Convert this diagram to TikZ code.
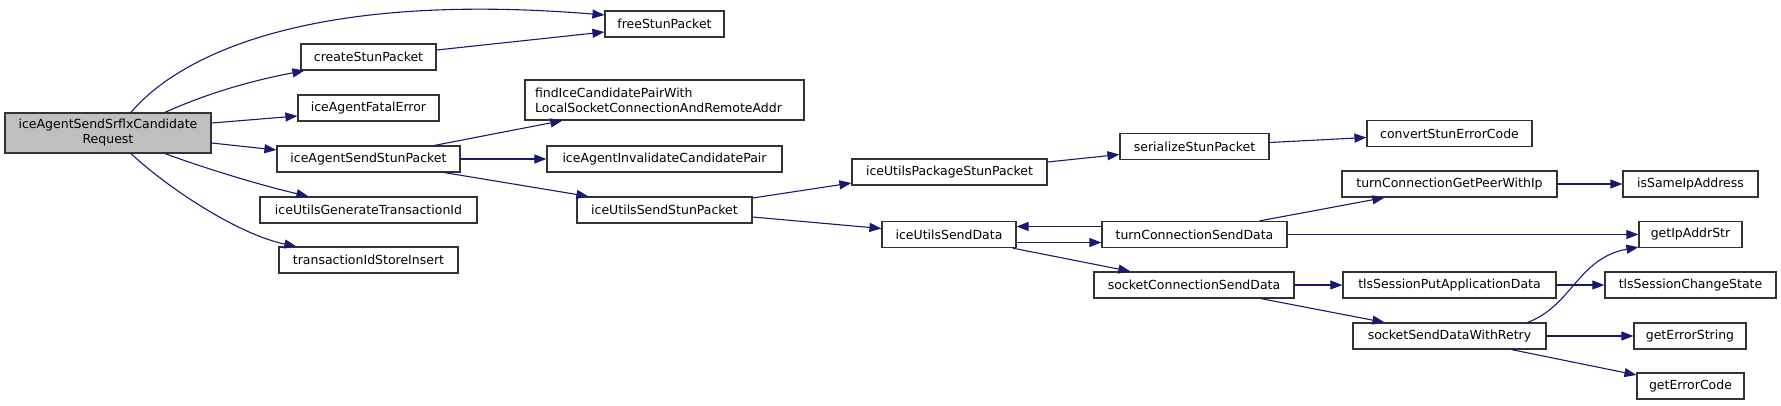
\documentclass[tikz,border=0pt]{standalone}
\usepackage{fontspec}
\setmainfont{DejaVu Sans}
\usetikzlibrary{arrows.meta,calc}
\definecolor{edgec}{HTML}{191970}
\definecolor{mainfill}{HTML}{BFBFBF}
\begin{document}
\begin{tikzpicture}[x=1pt,y=-1pt,
  fn/.style={draw=black!80, line width=1.2pt, inner sep=0pt, minimum height=26pt,
    font=\fontsize{12.5}{15}\selectfont, fill=white},
  call/.style={edgec, line width=1.1pt, -{Triangle[length=12pt,width=9pt]}}]
\useasboundingbox (0,0) rectangle (1781,405);
% nodes
\node[fn, fill=mainfill, minimum width=206pt, minimum height=40pt, align=center] (main) at (108,133) {iceAgentSendSrflxCandidate\\Request};
\node[fn, minimum width=119pt] (free) at (664.5,24) {freeStunPacket};
\node[fn, minimum width=135pt] (create) at (368.5,57) {createStunPacket};
\node[fn, minimum width=141pt] (fatal) at (368.5,108) {iceAgentFatalError};
\node[fn, minimum height=40pt, text width=259pt, inner xsep=10pt, align=left] (find) at (664.5,100) {findIceCandidatePairWith\\LocalSocketConnectionAndRemoteAddr};
\node[fn, minimum width=183pt] (sendstun) at (368.5,159) {iceAgentSendStunPacket};
\node[fn, minimum width=235pt] (invalid) at (664.5,159) {iceAgentInvalidateCandidatePair};
\node[fn, minimum width=217pt] (genid) at (368.5,210) {iceUtilsGenerateTransactionId};
\node[fn, minimum width=175pt] (utilsstun) at (664.5,210) {iceUtilsSendStunPacket};
\node[fn, minimum width=179pt] (store) at (368.5,260) {transactionIdStoreInsert};
\node[fn, minimum width=195pt] (pkg) at (949.5,172) {iceUtilsPackageStunPacket};
\node[fn, minimum width=149pt] (ser) at (1194.5,146.5) {serializeStunPacket};
\node[fn, minimum width=165pt] (conv) at (1449.5,133.5) {convertStunErrorCode};
\node[fn, minimum width=215pt] (peer) at (1449.5,184) {turnConnectionGetPeerWithIp};
\node[fn, minimum width=135pt] (same) at (1690.5,184) {isSameIpAddress};
\node[fn, minimum width=134pt] (senddata) at (949,234.5) {iceUtilsSendData};
\node[fn, minimum width=185pt] (turnsend) at (1194.5,234.5) {turnConnectionSendData};
\node[fn, minimum width=103pt] (ipstr) at (1690.5,234.5) {getIpAddrStr};
\node[fn, minimum width=200pt] (sockconn) at (1194,285) {socketConnectionSendData};
\node[fn, minimum width=213pt] (tlsput) at (1449.5,285) {tlsSessionPutApplicationData};
\node[fn, minimum width=171pt] (tlschange) at (1690.5,285) {tlsSessionChangeState};
\node[fn, minimum width=193pt] (retry) at (1449.5,336) {socketSendDataWithRetry};
\node[fn, minimum width=112pt] (errstr) at (1690,336) {getErrorString};
\node[fn, minimum width=107pt] (errcode) at (1690.5,386) {getErrorCode};
% edges
\draw[call] ($(main.north)+(23,0)$) .. controls (175,60) and (300,-10) .. ($(free.west)+(0,-9)$);
\draw[call] ($(main.north)+(57,0)$) .. controls (210,92) and (255,80) .. ($(create.south west)+(4,0)$);
\draw[call] ($(create.east)+(0,-7)$) -- ($(free.west)+(0,8)$);
\draw[call] ($(main.east)+(0,-10)$) -- ($(fatal.west)+(0,8)$);
\draw[call] ($(main.east)+(0,10)$) -- ($(sendstun.west)+(0,-9)$);
\draw[call] ($(main.south)+(57,0)$) .. controls (210,170) and (260,185) .. ($(genid.north west)+(49,0)$);
\draw[call] ($(main.south)+(23,0)$) .. controls (170,190) and (240,235) .. ($(store.north west)+(18,0)$);
\draw[call] ($(sendstun.north)+(66,0)$) -- ($(find.south west)+(38,0)$);
\draw[call] (sendstun.east) -- (invalid.west);
\draw[call] ($(sendstun.south)+(76,0)$) -- ($(utilsstun.north west)+(12,0)$);
\draw[call] ($(utilsstun.east)+(0,-12)$) -- ($(pkg.west)+(0,11)$);
\draw[call] ($(utilsstun.east)+(0,7)$) -- ($(senddata.west)+(0,-6)$);
\draw[call] ($(pkg.east)+(0,-10)$) -- ($(ser.west)+(0,8)$);
\draw[call] ($(ser.east)+(0,-4)$) -- ($(conv.west)+(0,4)$);
\draw[call] ($(senddata.east)+(0,8)$) -- ($(turnsend.west)+(0,8)$);
\draw[call] ($(turnsend.west)+(0,-8)$) -- ($(senddata.east)+(0,-8)$);
\draw[call] ($(senddata.south east)+(-4,0)$) -- ($(sockconn.north west)+(37,0)$);
\draw[call] ($(turnsend.north)+(65,0)$) -- ($(peer.south west)+(43,0)$);
\draw[call] (peer.east) -- (same.west);
\draw[call] (turnsend.east) -- (ipstr.west);
\draw[call] (sockconn.east) -- (tlsput.west);
\draw[call] ($(sockconn.south)+(67,0)$) -- ($(retry.north west)+(32,0)$);
\draw[call] (tlsput.east) -- (tlschange.west);
\draw[call] ($(retry.north)+(78,0)$) .. controls (1572,306) and (1578,258) .. ($(ipstr.south west)+(0,-1)$);
\draw[call] (retry.east) -- (errstr.west);
\draw[call] ($(retry.south)+(62,0)$) -- ($(errcode.west)+(0,-11)$);
\end{tikzpicture}
\end{document}
